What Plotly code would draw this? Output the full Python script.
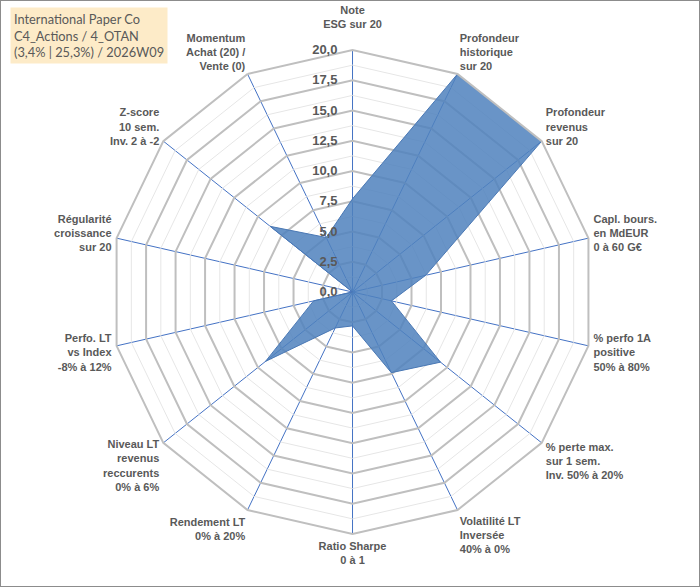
import plotly.graph_objects as go

categories = [
    "Note<br>ESG sur 20<br>\u00a0",
    "Profondeur<br>historique<br>sur 20",
    "Profondeur<br>revenus<br>sur 20",
    "Capl. bours.<br>en MdEUR<br>0 à 60 G€",
    "% perfo 1A<br>positive<br>50% à 80%",
    "% perte max.<br>sur 1 sem.<br>Inv. 50% à 20%",
    "Volatilité LT<br>Inversée<br>40% à 0%",
    "Ratio Sharpe<br>0 à 1",
    "Rendement LT<br>0% à 20%",
    "Niveau LT<br>revenus<br>reccurents<br>0% à 6%",
    "Perfo. LT<br>vs Index<br>-8% à 12%",
    "Régularité<br>croissance<br>sur 20",
    "Z-score<br>10 sem.<br>Inv. 2 à -2",
    "Momentum<br>Achat (20) /<br>Vente (0)",
]
scores = [7.7, 20, 20, 6.2, 3.3, 9.3, 7.4, 2.8, 3.3, 9.2, 3.3, 0, 8.7, 5.0]
radial_ticks = [0, 2.5, 5, 7.5, 10, 12.5, 15, 17.5, 20]
minor_levels = [1.25, 3.75, 6.25, 8.75, 11.25, 13.75, 16.25, 18.75]
title_lines = ["International Paper Co", "C4_Actions / 4_OTAN", "(3,4% | 25,3%) / 2026W09"]

fig = go.Figure()

# minor grid rings
for lv in minor_levels:
    fig.add_trace(go.Scatterpolar(
        r=[lv] * len(categories) + [lv], theta=categories + [categories[0]],
        mode="lines", line=dict(color="#E6E6E6", width=1),
        hoverinfo="skip", showlegend=False))

fig.add_trace(go.Scatterpolar(
    r=scores + [scores[0]], theta=categories + [categories[0]],
    mode="lines", fill="toself",
    fillcolor="rgba(79,129,189,0.85)",
    line=dict(color="#4A78B4", width=1),
    showlegend=False))

label_font = dict(family="Liberation Sans, Arial", size=11, color="#595959", weight="bold")

fig.update_layout(
    width=700, height=587,
    margin=dict(l=0, r=0, t=0, b=0),
    paper_bgcolor="white",
    separators=", ",
    polar=dict(
        domain=dict(x=[0.1579, 0.8493], y=[0.0903, 0.9148]),
        bgcolor="white",
        gridshape="linear",
        angularaxis=dict(
            rotation=90, direction="clockwise",
            categoryorder="array", categoryarray=categories,
            showline=True, linecolor="#BFBFBF", linewidth=2,
            gridcolor="#4472C4", gridwidth=1,
            ticks="outside", ticklen=2, tickcolor="rgba(0,0,0,0)",
            tickfont=label_font,
        ),
        radialaxis=dict(
            range=[0, 20], tickvals=radial_ticks, tickformat=".1f",
            angle=90, tickangle=90, side="counterclockwise",
            showline=False, ticks="outside", ticklen=10, tickcolor="rgba(0,0,0,0)",
            gridcolor="#BFBFBF", gridwidth=2,
            tickfont=dict(family="Liberation Sans, Arial", size=13, color="#595959", weight="bold"),
            layer="above traces",
        ),
    ),
    shapes=[dict(type="rect", xref="paper", yref="paper", x0=0, y0=0, x1=1, y1=1,
                 line=dict(color="#8C8C8C", width=2))],
    annotations=[dict(
        text="<br>".join(title_lines), xref="paper", yref="paper",
        x=0.0143, y=1 - 7 / 587, xanchor="left", yanchor="top", align="left", showarrow=False,
        bgcolor="#FDEBC8", borderpad=3,
        font=dict(family="Lato", size=12.8, color="#595959"))],
)

fig.write_html("out.html", config={"displayModeBar": False})

# remove the browser's default body margin so the figure sits at the window origin
with open("out.html", encoding="utf-8") as f:
    html = f.read()
html = html.replace("<body>", '<body style="margin:0;overflow:hidden">', 1)
with open("out.html", "w", encoding="utf-8") as f:
    f.write(html)
